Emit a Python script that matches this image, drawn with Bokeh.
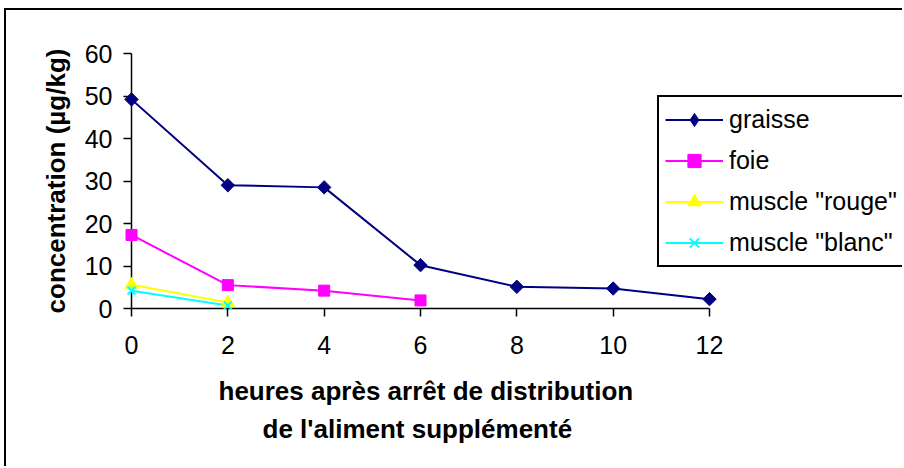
import math
from bokeh.plotting import figure
from bokeh.models import Range1d, FixedTicker, Legend, LegendItem, Title
from bokeh.embed import file_html
from bokeh.resources import INLINE

# ---- data ----
hours = [0, 2, 4, 6, 8, 10, 12]
graisse = [49.2, 29.0, 28.5, 10.2, 5.1, 4.7, 2.2]
foie_hours = [0, 2, 4, 6]
foie = [17.3, 5.5, 4.2, 1.9]
muscle_hours = [0, 2]
muscle_rouge = [5.6, 1.4]
muscle_blanc = [4.2, 0.7]
x_ticks = [0, 2, 4, 6, 8, 10, 12]
y_ticks = [0, 10, 20, 30, 40, 50, 60]
x_min, x_max = 0, 12
y_min, y_max = 0, 60
series_names = ["graisse", "foie", 'muscle "rouge"', 'muscle "blanc"']
x_title_lines = ["heures après arrêt de distribution", "de l'aliment supplémenté"]
y_title = "concentration (µg/kg)"

FONT = "Liberation Sans"

# frame: x axis spans 0..12 over 578 px; frame extends to the right edge for the legend
px_per_hour = 578 / 12
frame_w = 771
p = figure(width=896, height=456, frame_width=frame_w, frame_height=255,
           min_border_left=125, min_border_right=0, min_border_top=43, min_border_bottom=158,
           x_range=Range1d(x_min, x_min + frame_w / px_per_hour), y_range=Range1d(y_min, y_max),
           output_backend="svg", toolbar_location=None)
p.styles = {"border-left": "2px solid black", "border-top": "2px solid black",
            "margin-left": "4px", "margin-top": "8px"}
p.background_fill_color = "white"
p.border_fill_color = "white"
p.outline_line_color = None
p.xgrid.visible = False
p.ygrid.visible = False

for ax in (p.xaxis[0], p.yaxis[0]):
    ax.axis_line_width = 1.5
    ax.axis_line_color = "black"
    ax.major_tick_line_width = 1.5
    ax.major_tick_line_color = "black"
    ax.major_tick_in = 0
    ax.major_tick_out = 8
    ax.minor_tick_line_color = None
    ax.major_label_text_font = FONT
    ax.major_label_text_font_size = "25px"
    ax.major_label_text_color = "black"
    ax.axis_label_text_font = FONT
    ax.axis_label_text_font_size = "26px"
    ax.axis_label_text_font_style = "bold"
    ax.axis_label_text_color = "black"

p.xaxis.ticker = FixedTicker(ticks=x_ticks)
p.yaxis.ticker = FixedTicker(ticks=y_ticks)
p.xaxis.bounds = (x_min, x_max)
p.xaxis.major_label_standoff = 19
p.yaxis.major_label_standoff = 11
p.yaxis.axis_label = y_title
p.yaxis.axis_label_standoff = 11
# blank x axis label used only as extra spacing under the tick labels
p.xaxis.axis_label = " "
p.xaxis.axis_label_text_font_size = "1px"
p.xaxis.axis_label_standoff = 8

# x axis title: two lines, centred under the 0..12 span
for txt, off, so in zip(x_title_lines, [87, 131], [11, 1]):
    p.add_layout(Title(text=txt, align="left", offset=off, standoff=so,
                       text_font=FONT, text_font_size="26px", text_font_style="bold",
                       text_color="black"), "below")

navy = "#000080"
magenta = "#FF00FF"
yellow = "#FFFF00"
cyan = "#00FFFF"

l1 = p.line(hours, graisse, line_color=navy, line_width=2)
m1 = p.scatter(hours, graisse, marker="square", angle=math.pi / 4, size=9.5,
               fill_color=navy, line_color=navy, level="overlay")
# diamond glyph used only for the legend entry (legend ignores marker angle)
m1_leg = p.scatter(hours, graisse, marker="diamond", fill_color=navy,
                   line_color=navy, visible=False)
l2 = p.line(foie_hours, foie, line_color=magenta, line_width=2)
m2 = p.scatter(foie_hours, foie, marker="square", size=11,
               fill_color=magenta, line_color=magenta, level="overlay")
l3 = p.line(muscle_hours, muscle_rouge, line_color=yellow, line_width=2)
m3 = p.scatter(muscle_hours, muscle_rouge, marker="triangle", size=13,
               fill_color=yellow, line_color=yellow, level="overlay")
l4 = p.line(muscle_hours, muscle_blanc, line_color=cyan, line_width=2)
m4 = p.scatter(muscle_hours, muscle_blanc, marker="x", size=11,
               line_color=cyan, line_width=2, level="overlay")

legend = Legend(items=[
    LegendItem(label=series_names[0], renderers=[l1, m1_leg]),
    LegendItem(label=series_names[1], renderers=[l2, m2]),
    LegendItem(label=series_names[2], renderers=[l3, m3]),
    LegendItem(label=series_names[3], renderers=[l4, m4]),
], location=(526, 41))
legend.padding = 6
legend.margin = 0
legend.spacing = 8
legend.glyph_width = 58
legend.glyph_height = 33
legend.label_height = 33
legend.label_standoff = 6
legend.label_width = 164
legend.label_text_font = FONT
legend.label_text_font_size = "25px"
legend.label_text_color = "black"
legend.border_line_color = "black"
legend.border_line_alpha = 1.0
legend.border_line_width = 2
legend.background_fill_color = "white"
legend.background_fill_alpha = 1.0
p.add_layout(legend, "center")

open("out.html", "w").write(file_html(p, INLINE))
